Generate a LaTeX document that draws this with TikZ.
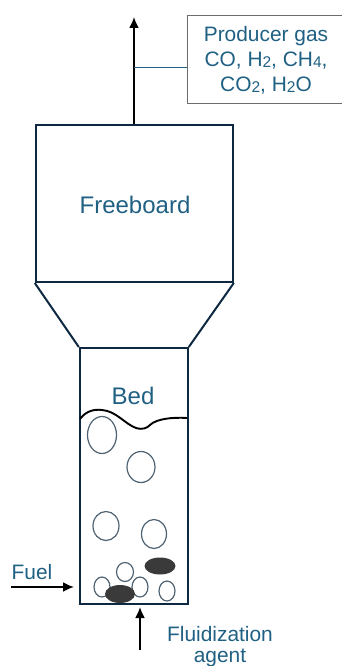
\documentclass[tikz,border=0pt]{standalone}
\usepackage{fontspec}
\setmainfont{Liberation Sans}
\usetikzlibrary{arrows.meta,shapes.geometric}
\definecolor{labelblue}{HTML}{1F6083}
\definecolor{navy}{HTML}{0E2841}
\definecolor{bubble}{HTML}{4F6272}
\definecolor{solid}{HTML}{3A3A3A}
\newcommand{\dg}[1]{\raisebox{-0.8pt}{\fontsize{15.5}{15.5}\selectfont #1}}
\tikzset{
  x=1pt,y=-1pt,
  vessel/.style={draw=navy,line width=2pt,line join=miter},
  flow/.style={draw=black,line width=1.8pt,-{Latex[length=11pt,width=10pt]}},
  lab/.style={text=labelblue,font=\fontsize{20.9}{25}\selectfont,align=center,inner sep=0pt},
  biglab/.style={text=labelblue,font=\fontsize{24}{27}\selectfont,align=center,inner sep=0pt},
  bub/.style={draw=bubble,line width=1.2pt,fill=white,ellipse,inner sep=0pt},
  darkblob/.style={draw=none,fill=solid,ellipse,inner sep=0pt},
}
\begin{document}
\begin{tikzpicture}
\useasboundingbox (0,0) rectangle (341,666);
% vessels
\node[vessel,minimum width=197pt,minimum height=157pt,inner sep=0pt,anchor=north west] (free) at (34.8,124) {};
\node[vessel,minimum width=108pt,minimum height=256pt,inner sep=0pt,anchor=north west] (bedbox) at (78.8,347) {};
\draw[vessel] (free.south west) -- (bedbox.north west);
\draw[vessel] (free.south east) -- (bedbox.north east);
\node[biglab] (freelab) at (135,205) {Freeboard};
\node[biglab] (bedlab) at (133,396) {Bed};
% bed surface
\draw[black,line width=1.9pt] (80,419) .. controls (86,411) and (94,409) .. (102,410)
  .. controls (116,411) and (125,424) .. (136,428)
  .. controls (143,430) and (147,428) .. (150,425)
  .. controls (156,419) and (172,417) .. (187,418);
% bubbles
\node[bub,minimum width=29pt,minimum height=37pt] (b1) at (102,435) {};
\node[bub,minimum width=28pt,minimum height=31pt] (b2) at (141,467) {};
\node[bub,minimum width=26pt,minimum height=29pt] (b3) at (106,526) {};
\node[bub,minimum width=25pt,minimum height=29pt] (b4) at (154,534) {};
\node[bub,minimum width=17pt,minimum height=19pt] (b5) at (125,572) {};
\node[bub,minimum width=16pt,minimum height=20pt] (b6) at (102,587) {};
\node[bub,minimum width=16pt,minimum height=20pt] (b7) at (140,587) {};
\node[bub,minimum width=16pt,minimum height=20pt] (b8) at (167,591) {};
\node[darkblob,minimum width=31pt,minimum height=17pt] (c1) at (160,566) {};
\node[darkblob,minimum width=30pt,minimum height=18pt] (c2) at (120,594) {};
% producer gas
\node[draw=gray!85!black,line width=1pt,minimum width=156pt,minimum height=88pt,anchor=north west,inner sep=0pt] (gasbox) at (186.5,15.5) {};
\node[lab] (gaslab) at (266,60) {Producer gas\\CO, H\dg{2}, CH\dg{4},\\CO\dg{2}, H\dg{2}O};
\coordinate (outtop) at (134,17);
\coordinate (outbase) at (134,124);
\coordinate (tap) at (134,67);
\draw[flow] (outbase) -- (outtop);
\draw[draw=labelblue,line width=0.8pt] (tap) -- (tap -| gasbox.west);
% inputs
\node[lab] (fuellab) at (32,572) {Fuel};
\coordinate (fuelstart) at (11,587);
\coordinate (fuelend) at (74,587);
\draw[flow] (fuelstart) -- (fuelend);
\node[lab] (fluid) at (220,634) {Fluidization};
\node[lab] (agent) at (220,658) {agent};
\coordinate (agstart) at (140,650);
\coordinate (agend) at (140,607);
\draw[flow] (agstart) -- (agend);
\end{tikzpicture}
\end{document}
